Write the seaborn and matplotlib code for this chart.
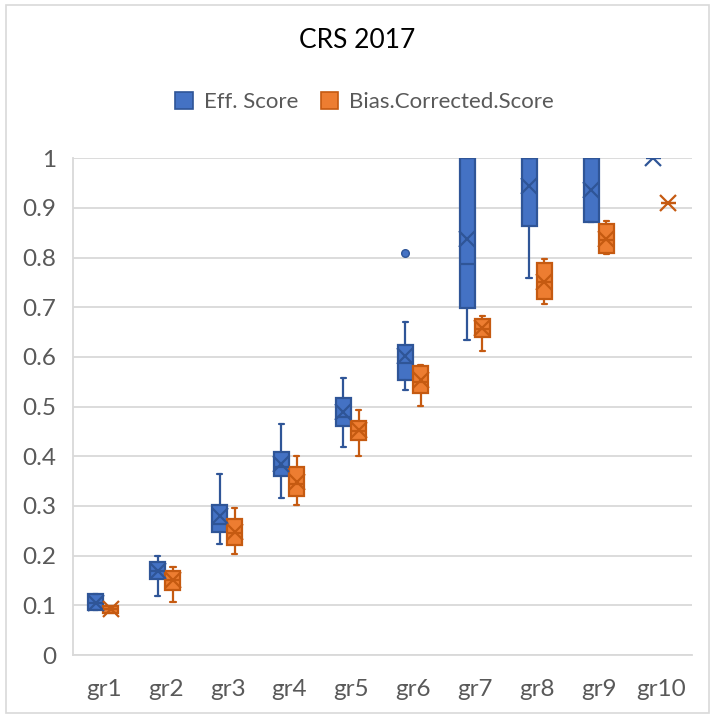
import matplotlib
matplotlib.use("Agg")
import matplotlib.pyplot as plt
import seaborn as sns
from matplotlib.patches import Patch, Rectangle

# Groups on the x axis
groups = ["gr1", "gr2", "gr3", "gr4", "gr5", "gr6", "gr7", "gr8", "gr9", "gr10"]

# Eff. Score: whisker ends, quartiles, median, mean, outliers
eff_low  = [0.091, 0.119, 0.224, 0.317, 0.418, 0.534, 0.634, 0.758, 0.871, 1.000]
eff_q1   = [0.091, 0.153, 0.248, 0.360, 0.461, 0.554, 0.698, 0.864, 0.871, 1.000]
eff_med  = [0.105, 0.170, 0.263, 0.378, 0.480, 0.587, 0.788, 1.000, 1.000, 1.000]
eff_q3   = [0.122, 0.188, 0.302, 0.408, 0.517, 0.624, 1.000, 1.000, 1.000, 1.000]
eff_high = [0.122, 0.199, 0.364, 0.464, 0.558, 0.671, 1.000, 1.000, 1.000, 1.000]
eff_mean = [0.105, 0.170, 0.280, 0.384, 0.490, 0.602, 0.837, 0.943, 0.936, 1.000]
eff_out  = [[], [], [], [], [], [0.810], [], [], [], []]

# Bias.Corrected.Score
bc_low  = [0.085, 0.107, 0.203, 0.302, 0.401, 0.501, 0.611, 0.707, 0.808, 0.910]
bc_q1   = [0.085, 0.131, 0.222, 0.320, 0.432, 0.527, 0.640, 0.717, 0.809, 0.910]
bc_med  = [0.092, 0.150, 0.245, 0.345, 0.450, 0.550, 0.657, 0.750, 0.835, 0.910]
bc_q3   = [0.099, 0.170, 0.273, 0.378, 0.472, 0.582, 0.676, 0.789, 0.867, 0.910]
bc_high = [0.099, 0.178, 0.295, 0.401, 0.493, 0.583, 0.683, 0.798, 0.874, 0.910]
bc_mean = [0.092, 0.151, 0.248, 0.349, 0.453, 0.554, 0.659, 0.750, 0.837, 0.910]
bc_out  = [[] for _ in groups]

series_names = ["Eff. Score", "Bias.Corrected.Score"]

sns.set_theme(style="white")
plt.rcParams["font.family"] = ["Lato", "DejaVu Sans"]

fills = ["#4472C4", "#ED7D31"]
edges = ["#2F5597", "#C55A11"]
text_color = "#595959"


def make_stats(low, q1, med, q3, high, mean, out):
    return [
        dict(whislo=a, q1=b, med=c, q3=d, whishi=e, mean=f, fliers=g)
        for a, b, c, d, e, f, g in zip(low, q1, med, q3, high, mean, out)
    ]


stats = [
    make_stats(eff_low, eff_q1, eff_med, eff_q3, eff_high, eff_mean, eff_out),
    make_stats(bc_low, bc_q1, bc_med, bc_q3, bc_high, bc_mean, bc_out),
]

fig = plt.figure(figsize=(7.15, 7.19), dpi=100)
ax = fig.add_axes([0.1017, 0.089, 0.8663, 0.691])

offsets = [-0.13, 0.115]
box_w = 0.24
for k in range(2):
    pos = [i + offsets[k] for i in range(len(groups))]
    ax.bxp(
        stats[k], positions=pos, widths=box_w, patch_artist=True,
        showmeans=True, showfliers=True, capwidths=0.09,
        boxprops=dict(facecolor=fills[k], edgecolor=edges[k], linewidth=1.6),
        medianprops=dict(color=edges[k], linewidth=1.6),
        whiskerprops=dict(color=edges[k], linewidth=1.6),
        capprops=dict(color=edges[k], linewidth=1.6),
        meanprops=dict(marker="x", markersize=11.5, markeredgecolor=edges[k],
                       markeredgewidth=1.6),
        flierprops=dict(marker="o", markersize=5.5, markerfacecolor=fills[k],
                        markeredgecolor=edges[k], markeredgewidth=1),
        manage_ticks=False, zorder=3,
    )

ax.set_xlim(-0.5, len(groups) - 0.5)
ax.set_ylim(0, 1)
ax.set_yticks([i / 10 for i in range(11)])
ax.set_yticklabels(["0"] + [f"0.{i}" for i in range(1, 10)] + ["1"])
ax.set_xticks(range(len(groups)))
ax.set_xticklabels(groups)
ax.tick_params(axis="both", length=0, labelsize=17.5, colors=text_color)
ax.tick_params(axis="y", pad=12)
ax.tick_params(axis="x", pad=17)
ax.yaxis.grid(True, color="#D9D9D9", linewidth=1.3, zorder=0)
ax.set_axisbelow(True)
for side in ["top", "right"]:
    ax.spines[side].set_visible(False)
for side in ["left", "bottom"]:
    ax.spines[side].set_color("#D9D9D9")
    ax.spines[side].set_linewidth(1.3)

fig.text(0.5, 1 - 41 / 719, "CRS 2017", ha="center", va="center",
         fontsize=19, color="#000000")

handles = [Patch(facecolor=fills[k], edgecolor=edges[k], linewidth=1.2,
                 label=series_names[k]) for k in range(2)]
fig.legend(handles=handles, loc="center", bbox_to_anchor=(0.51, 1 - 102 / 719),
           ncol=2, frameon=False, fontsize=16, handlelength=0.8, handleheight=0.8,
           columnspacing=1.0, handletextpad=0.5, labelcolor=text_color)

fig.patches.append(Rectangle((0.009, 0.008), 0.982, 0.985, transform=fig.transFigure,
                             fill=False, edgecolor="#D9D9D9", linewidth=1.2))

fig.savefig("out.png", dpi=100)
